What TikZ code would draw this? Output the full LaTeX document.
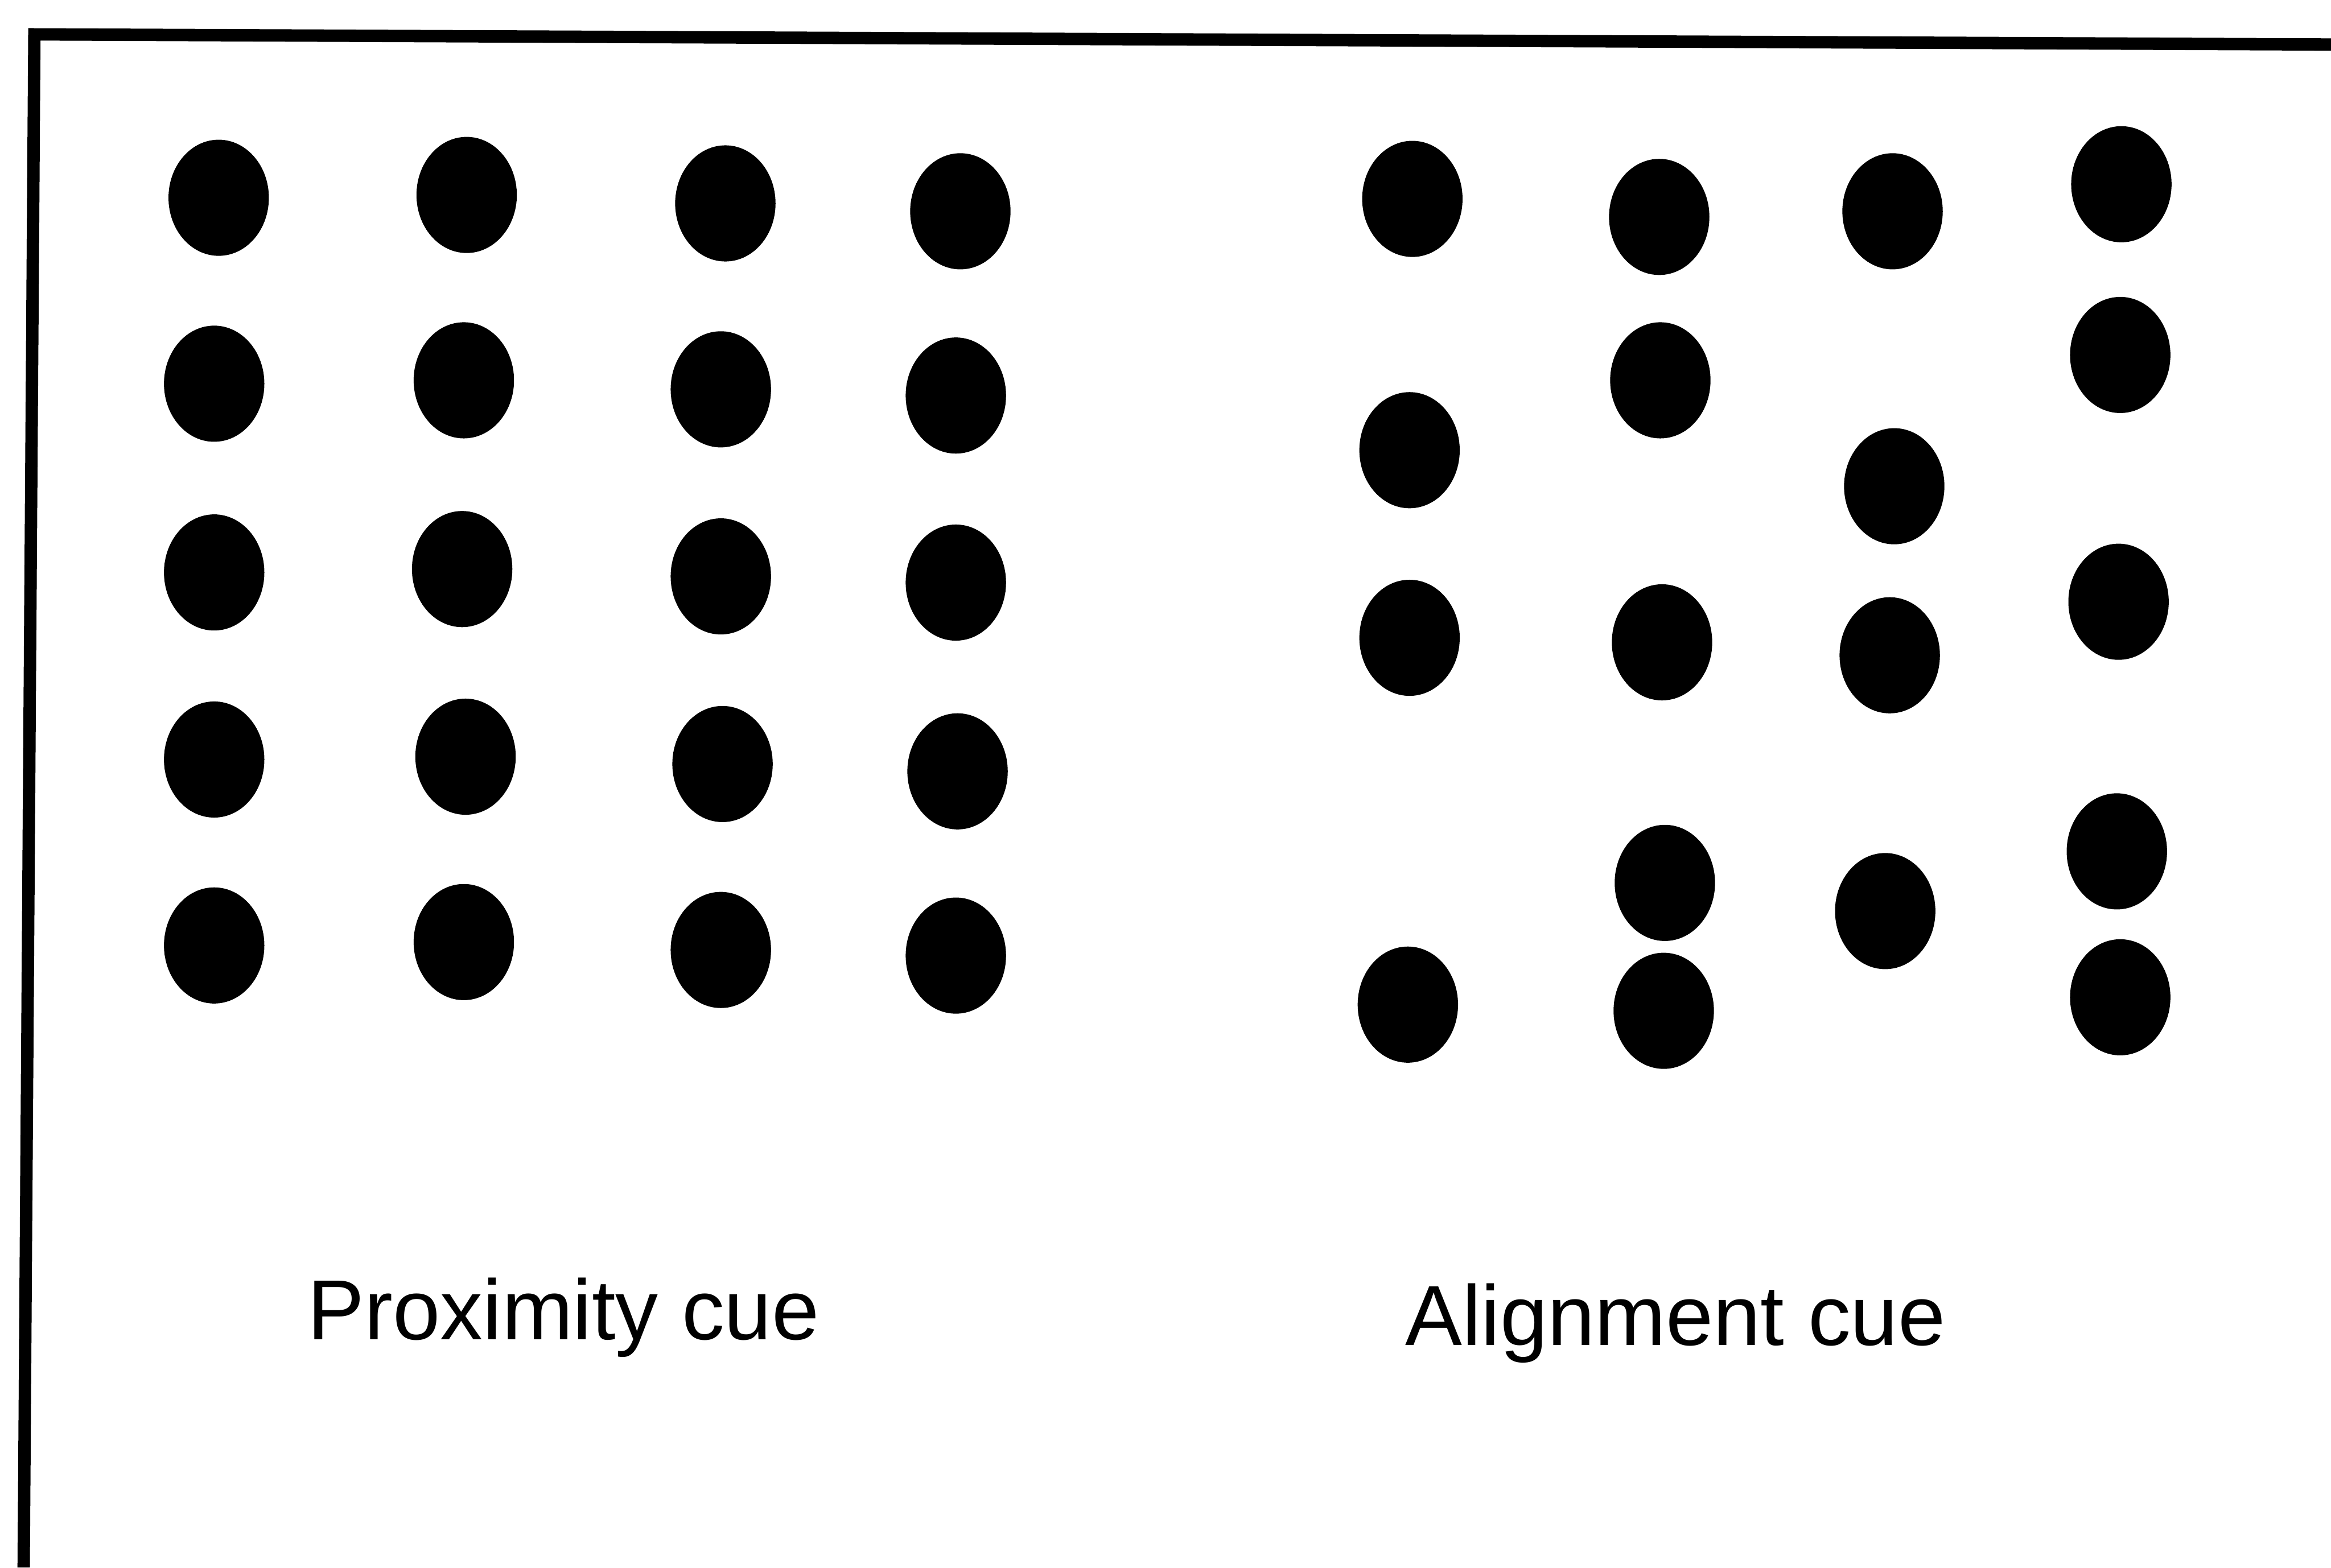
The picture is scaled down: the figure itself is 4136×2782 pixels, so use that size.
\documentclass[tikz,border=0pt]{standalone}
\usepackage{fontspec}
\setmainfont{Liberation Sans}
\usepackage{tikz}
\usetikzlibrary{shapes, positioning}

\begin{document}
\begin{tikzpicture}[
        x=0.01cm, y=-0.01cm,
        dot/.style={ellipse, fill=black, draw=none, inner sep=0pt, minimum width=1.78cm, minimum height=2.06cm},
        frameline/.style={line width=0.22cm, draw=black, line join=miter},
        cue/.style={anchor=base, inner sep=0pt, font=\fontsize{43}{50}\selectfont}
    ]
        \useasboundingbox (0,0) rectangle (4136,2782);
        \draw[frameline] (42,2782) -- (61,61) -- (4136,79);
        % proximity grid
        \node[dot] (p11) at (388,351) {};
        \node[dot] (p12) at (828,346) {};
        \node[dot] (p13) at (1287,361) {};
        \node[dot] (p14) at (1704,375) {};
        \node[dot] (p21) at (380,681) {};
        \node[dot] (p22) at (823,675) {};
        \node[dot] (p23) at (1279,691) {};
        \node[dot] (p24) at (1696,702) {};
        \node[dot] (p31) at (380,1016) {};
        \node[dot] (p32) at (820,1010) {};
        \node[dot] (p33) at (1279,1023) {};
        \node[dot] (p34) at (1696,1034) {};
        \node[dot] (p41) at (380,1348) {};
        \node[dot] (p42) at (826,1343) {};
        \node[dot] (p43) at (1282,1356) {};
        \node[dot] (p44) at (1699,1369) {};
        \node[dot] (p51) at (380,1678) {};
        \node[dot] (p52) at (823,1672) {};
        \node[dot] (p53) at (1279,1686) {};
        \node[dot] (p54) at (1696,1696) {};
        % alignment columns
        \node[dot] (a11) at (2506,353) {};
        \node[dot] (a12) at (2501,799) {};
        \node[dot] (a13) at (2501,1132) {};
        \node[dot] (a14) at (2498,1783) {};
        \node[dot] (a21) at (2944,385) {};
        \node[dot] (a22) at (2946,675) {};
        \node[dot] (a23) at (2949,1140) {};
        \node[dot] (a24) at (2954,1567) {};
        \node[dot] (a25) at (2952,1794) {};
        \node[dot] (a31) at (3358,375) {};
        \node[dot] (a32) at (3361,863) {};
        \node[dot] (a33) at (3353,1163) {};
        \node[dot] (a34) at (3345,1617) {};
        \node[dot] (a41) at (3764,327) {};
        \node[dot] (a42) at (3762,630) {};
        \node[dot] (a43) at (3759,1068) {};
        \node[dot] (a44) at (3756,1511) {};
        \node[dot] (a45) at (3762,1770) {};
        % captions
        \node[cue] (proxlabel) at (1000,2377) {Proximity cue};
        \node[cue] (alignlabel) at (2973,2388) {Alignment cue};
    \end{tikzpicture}
\end{document}
